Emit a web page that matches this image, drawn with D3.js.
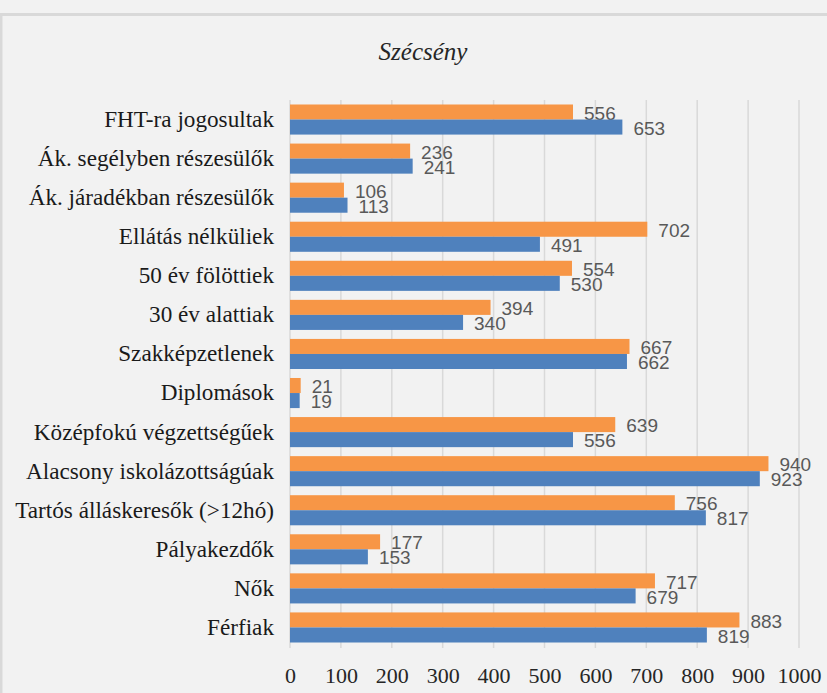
<!DOCTYPE html>
<html>
<head>
<meta charset="utf-8">
<script src="https://cdn.jsdelivr.net/npm/d3@7"></script>
<style>
  html, body { margin: 0; padding: 0; background: #f2f2f2; }
  svg { display: block; }
</style>
</head>
<body>
<script>
const categories = [
  "FHT-ra jogosultak",
  "Ák. segélyben részesülők",
  "Ák. járadékban részesülők",
  "Ellátás nélküliek",
  "50 év fölöttiek",
  "30 év alattiak",
  "Szakképzetlenek",
  "Diplomások",
  "Középfokú végzettségűek",
  "Alacsony iskolázottságúak",
  "Tartós álláskeresők (>12hó)",
  "Pályakezdők",
  "Nők",
  "Férfiak"
];
const seriesOrange = [556, 236, 106, 702, 554, 394, 667, 21, 639, 940, 756, 177, 717, 883];
const seriesBlue   = [653, 241, 113, 491, 530, 340, 662, 19, 556, 923, 817, 153, 679, 819];
const xTicks = [0, 100, 200, 300, 400, 500, 600, 700, 800, 900, 1000];
const title = "Szécsény";

const W = 827, H = 693;
const svg = d3.select("body").append("svg").attr("width", W).attr("height", H);

svg.append("rect").attr("width", W).attr("height", H).attr("fill", "#f2f2f2");
// frame lines
svg.append("line").attr("x1", 0).attr("x2", W).attr("y1", 14.5).attr("y2", 14.5)
  .attr("stroke", "#d9d9d9").attr("stroke-width", 3);
svg.append("line").attr("x1", 1).attr("x2", 1).attr("y1", 13).attr("y2", H)
  .attr("stroke", "#d9d9d9").attr("stroke-width", 3);

const x = d3.scaleLinear().domain([0, 1000]).range([290, 799]);
const y = d3.scaleBand().domain(categories).range([100, 647]).paddingInner(0.23).paddingOuter(0.115);
const sub = d3.scaleBand().domain(["o", "b"]).range([0, y.bandwidth()]);

// gridlines
svg.append("g").selectAll("line").data(xTicks).join("line")
  .attr("x1", d => x(d)).attr("x2", d => x(d))
  .attr("y1", 100).attr("y2", 648)
  .attr("stroke", "#d9d9d9").attr("stroke-width", 1.5);

// title
svg.append("text").attr("x", 423).attr("y", 60).attr("text-anchor", "middle")
  .attr("font-family", "Liberation Serif").attr("font-style", "italic")
  .attr("font-size", 25).attr("fill", "#262626").text(title);

// axis tick labels
const xAxis = d3.axisBottom(x).tickValues(xTicks).tickSize(0).tickPadding(0).tickFormat(d3.format("d"));
const gx = svg.append("g").attr("transform", "translate(0,667)").call(xAxis);
gx.select(".domain").remove();
gx.selectAll("text").attr("font-family", "Liberation Serif").attr("font-size", 22)
  .attr("fill", "#262626").attr("dy", "0.72em");

// category labels
const yAxis = d3.axisLeft(y).tickSize(0).tickPadding(0);
const gy = svg.append("g").attr("transform", "translate(274,0)").call(yAxis);
gy.select(".domain").remove();
gy.selectAll("text").attr("font-family", "Liberation Serif").attr("font-size", 23.2)
  .attr("fill", "#1a1a1a").attr("dy", "0.32em");

const rows = categories.map((c, i) => ({ c, o: seriesOrange[i], b: seriesBlue[i] }));

const series = [
  { key: "o", color: "#f79646", field: "o" },
  { key: "b", color: "#4f81bd", field: "b" }
];

series.forEach(s => {
  svg.append("g").selectAll("rect").data(rows).join("rect")
    .attr("x", x(0))
    .attr("y", d => y(d.c) + sub(s.key))
    .attr("width", d => x(d[s.field]) - x(0))
    .attr("height", sub.bandwidth())
    .attr("fill", s.color);
  svg.append("g").selectAll("text").data(rows).join("text")
    .attr("x", d => x(d[s.field]) + 11)
    .attr("y", d => y(d.c) + sub(s.key) + sub.bandwidth() / 2 + 1)
    .attr("dy", "0.35em")
    .attr("font-family", "Liberation Sans").attr("font-size", 19)
    .attr("fill", "#595959")
    .text(d => d[s.field]);
});
</script>
</body>
</html>
